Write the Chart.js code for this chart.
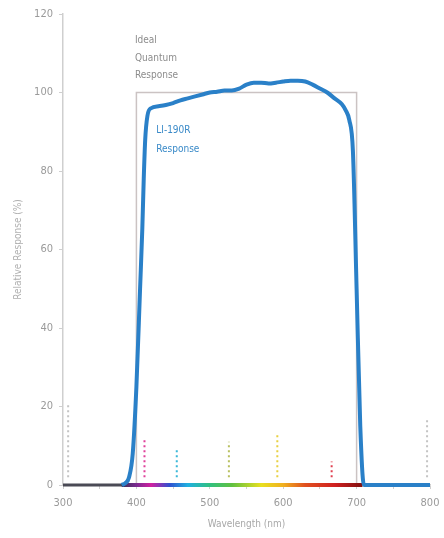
<!DOCTYPE html>
<html>
<head>
<meta charset="utf-8">
<script src="https://cdn.jsdelivr.net/npm/chart.js@4/dist/chart.umd.min.js"></script>
<style>
  html, body { margin: 0; padding: 0; background: #fff; }
  #wrap { width: 444px; height: 538px; }
</style>
</head>
<body>
<div id="wrap"><canvas id="chart"></canvas></div>
<script>
// measured LI-190R response (wavelength nm, relative %)
const respWave = [380, 385, 390, 395, 400, 405, 408, 410, 412, 415, 420, 430, 440, 450, 460, 470, 480, 490, 500, 510, 520, 530, 540, 550, 560, 570, 580, 590, 600, 610, 620, 630, 640, 650, 660, 670, 680, 685, 690, 695, 700, 705, 710, 800];
const respValue = [0, 0.5, 2, 8, 25, 50, 65, 78, 88, 94, 96, 96.5, 96.8, 97.3, 98, 98.5, 99, 99.5, 100, 100.2, 100.5, 100.5, 101, 102, 102.5, 102.5, 102.3, 102.5, 102.8, 103, 103, 102.8, 102, 101, 100, 98.5, 97, 95.5, 93, 85, 50, 15, 0, 0];

// ideal quantum response box
const idealWave = [400, 400, 700, 700];
const idealValue = [0, 100, 100, 0];

// dotted marker lines
const markWave = [307, 411, 455, 526, 592, 666, 796];
const markHeight = [21, 12, 9, 11, 13, 6, 17];
const markColor = ['#c4c4c4', '#e0409a', '#3bb8d8', '#b8c060', '#e8d040', '#e04050', '#c4c4c4'];

const xTicks = [300, 400, 500, 600, 700, 800];
const yTicks = [0, 20, 40, 60, 80, 100, 120];

const spectrumStops = [[380, '#3a3050'], [400, '#7a2a90'], [420, '#d020a0'], [445, '#3050d0'], [470, '#20b0e0'], [500, '#30c080'], [530, '#60c040'], [570, '#e8e020'], [600, '#f0b020'], [630, '#e05020'], [670, '#d02020'], [708, '#801010']];

const toXY = (xs, ys) => xs.map((x, i) => ({ x: x, y: ys[i] }));

const datasets = [
  {
    label: 'Ideal',
    data: toXY(idealWave, idealValue),
    borderColor: '#cbc3c3',
    borderWidth: 1.5,
    pointRadius: 0,
    order: 5
  },
  {
    label: 'UV',
    data: [{ x: 300, y: 0 }, { x: 385, y: 0 }],
    borderColor: '#4a4a55',
    borderWidth: 3,
    pointRadius: 0,
    clip: false,
    order: 4
  },
  {
    label: 'Spectrum',
    data: [{ x: 380, y: 0 }, { x: 708, y: 0 }],
    borderColor: (ctx) => {
      const chart = ctx.chart;
      if (!chart.chartArea) return '#888';
      const xs = chart.scales.x;
      const a = xs.getPixelForValue(380), b = xs.getPixelForValue(708);
      const g = chart.ctx.createLinearGradient(a, 0, b, 0);
      spectrumStops.forEach(s => g.addColorStop((s[0] - 380) / (708 - 380), s[1]));
      return g;
    },
    borderWidth: 4,
    pointRadius: 0,
    clip: false,
    order: 3
  }
];

markWave.forEach((w, i) => {
  datasets.push({
    label: 'mark' + i,
    data: [{ x: w, y: 2 }, { x: w, y: markHeight[i] }],
    borderColor: markColor[i],
    borderWidth: 2,
    borderDash: [2, 3],
    pointRadius: 0,
    order: 2
  });
});

datasets.push({
  label: 'LI-190R',
  data: toXY(respWave, respValue),
  borderColor: '#2a80c8',
  borderWidth: 4,
  pointRadius: 0,
  cubicInterpolationMode: 'monotone',
  clip: false,
  order: 1
});

const notes = {
  id: 'notes',
  afterDatasetsDraw(chart) {
    const c = chart.ctx, xs = chart.scales.x, ys = chart.scales.y;
    c.save();
    c.font = '10px "Liberation Sans Narrow", "DejaVu Sans Condensed", sans-serif';
    c.textBaseline = 'middle';
    c.fillStyle = '#8c8c8c';
    [['Ideal', 113.3], ['Quantum', 108.8], ['Response', 104.3]].forEach(t => {
      c.fillText(t[0], xs.getPixelForValue(398), ys.getPixelForValue(t[1]));
    });
    c.fillStyle = '#3a8ac8';
    [['LI-190R', 90.4], ['Response', 85.6]].forEach(t => {
      c.fillText(t[0], xs.getPixelForValue(427), ys.getPixelForValue(t[1]));
    });
    c.restore();
  }
};

const tickFont = { family: '"Liberation Sans Narrow", "DejaVu Sans Condensed", sans-serif', size: 11 };

new Chart(document.getElementById('chart'), {
  type: 'line',
  data: { datasets: datasets },
  options: {
    responsive: true,
    maintainAspectRatio: false,
    animation: false,
    layout: { padding: { top: 14, right: 14, left: 0, bottom: 0 } },
    plugins: { legend: { display: false }, tooltip: { enabled: false } },
    scales: {
      x: {
        type: 'linear',
        min: 300,
        max: 800,
        afterFit: (s) => { s.height = 53; s.paddingLeft = 0; s.paddingRight = 0; },
        afterBuildTicks: (s) => { s.ticks = [300, 350, 400, 450, 500, 550, 600, 650, 700, 750, 800].map(v => ({ value: v })); },
        ticks: {
          color: '#9a9a9a',
          font: tickFont,
          padding: 8,
          maxRotation: 0,
          callback: (v) => xTicks.includes(v) ? String(v) : ''
        },
        grid: { drawOnChartArea: false, tickLength: 4, color: '#cfcfcf' },
        border: { color: '#cfcfcf', width: 1.5 },
        title: { display: true, text: 'Wavelength (nm)', color: '#a8a8a8', font: { family: tickFont.family, size: 10 }, padding: { top: 0, bottom: 8 } }
      },
      y: {
        min: 0,
        max: 120,
        afterFit: (s) => { s.width = 63; s.paddingTop = 0; s.paddingBottom = 0; },
        afterBuildTicks: (s) => { s.ticks = yTicks.map(v => ({ value: v })); },
        ticks: { color: '#9a9a9a', font: tickFont, padding: 6 },
        grid: { drawOnChartArea: false, tickLength: 4, color: '#cfcfcf' },
        border: { color: '#cfcfcf', width: 1.5 },
        title: { display: true, text: 'Relative Response (%)', color: '#b0b0b0', font: { family: tickFont.family, size: 10 }, padding: { top: 12, bottom: 0 } }
      }
    }
  },
  plugins: [notes]
});
</script>
</body>
</html>
